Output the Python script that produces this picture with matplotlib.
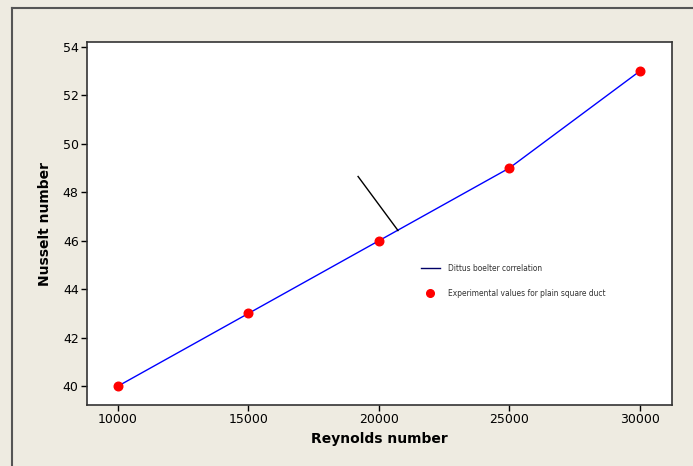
import matplotlib
matplotlib.use("Agg")
import matplotlib.pyplot as plt
from matplotlib.lines import Line2D

reynolds = [10000, 15000, 20000, 25000, 30000]
nusselt = [40.0, 43.0, 46.0, 49.0, 53.0]
xticks = [10000, 15000, 20000, 25000, 30000]
yticks = [40, 42, 44, 46, 48, 50, 52, 54]
annot_x = [19200, 20730]
annot_y = [48.65, 46.42]
legend_labels = ["Dittus boelter correlation", "Experimental values for plain square duct"]

plt.rcParams['font.family'] = ['DejaVu Sans']
bg = '#EEEBE1'
fig = plt.figure(figsize=(6.93, 4.66), dpi=100, facecolor=bg)
ax = fig.add_axes([87/693, 1-405/466, (672-87)/693, (405-42)/466])
ax.set_facecolor('white')

ax.plot(reynolds, nusselt, color='#0000FF', lw=1.0, zorder=2)
ax.plot(reynolds, nusselt, 'o', color='#FF0000', ms=6.2, mec='#FF0000', zorder=3)
ax.plot(annot_x, annot_y, color='black', lw=1.0, zorder=2)

ax.set_xlim(8812, 31230)
ax.set_ylim(39.22, 54.2)
ax.set_xticks(xticks)
ax.set_yticks(yticks)
ax.tick_params(direction='out', length=4, width=1, labelsize=9, colors='black', pad=2)
for s in ax.spines.values():
    s.set_color('#333333')
    s.set_linewidth(1.2)

ax.set_xlabel('Reynolds number', fontsize=10, fontweight='bold', labelpad=4)
ax.set_ylabel('Nusselt number', fontsize=10, fontweight='bold', labelpad=8)

handles = [Line2D([], [], color='#000066', lw=1.0),
           Line2D([], [], marker='o', ls='', color='#FF0000', ms=5.5)]
leg = ax.legend(handles, legend_labels, loc='upper left',
                bbox_to_anchor=((421-87)/585, 1-(264-42)/363),
                frameon=False, fontsize=5.45, handlelength=2.45,
                labelspacing=2.05, handletextpad=1.1, borderaxespad=0,
                borderpad=0)
for t in leg.get_texts():
    t.set_color('#333333')

# outer frame (left and top edges visible)
fx = 12/693
fy = 1-8/466
fig.add_artist(Line2D([fx, fx], [0, fy], transform=fig.transFigure, color='#555555', lw=1.5))
fig.add_artist(Line2D([fx, 1], [fy, fy], transform=fig.transFigure, color='#555555', lw=1.5))

fig.savefig('out.png', dpi=100, facecolor=bg)
